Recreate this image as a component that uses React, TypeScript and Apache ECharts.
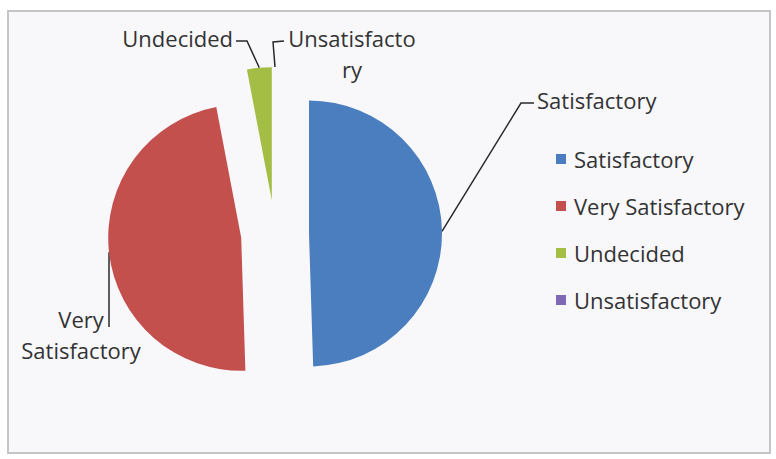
import React, { useEffect, useRef } from "react";
import * as echarts from "echarts";

const categories = ["Satisfactory", "Very Satisfactory", "Undecided", "Unsatisfactory"];
const values = [49.5, 47.5, 3, 0];
const colors = ["#4a7ebf", "#c4504e", "#a4bd45", "#7f68b4"];
const labelTexts = ["Satisfactory", "Very\nSatisfactory", "Undecided", "Unsatisfacto\nry"];

const CENTER = [275, 234];
const RADIUS = 133;
const EXPLODE = 34;

export default function App() {
  const ref = useRef<HTMLDivElement>(null);
  useEffect(() => {
    if (!ref.current) return;
    const chart = echarts.init(ref.current, null, { renderer: "svg" });
    const font = "'Open Sans', 'Noto Sans', sans-serif";
    const total = values.reduce((a, b) => a + b, 0);

    const layoutFor = (i: number, x0: number, y0: number) => {
      switch (i) {
        case 0:
          return {
            x: 537, y: 100, align: "left", verticalAlign: "middle",
            labelLinePoints: [[x0, y0], [521, 103], [534, 103]],
          };
        case 1:
          return {
            x: 81, y: 334, align: "center", verticalAlign: "middle",
            labelLinePoints: [[x0, y0], [x0, y0 + 2], [x0, 327]],
          };
        case 2:
          return {
            x: 233, y: 38, align: "right", verticalAlign: "middle",
            labelLinePoints: [[x0, y0], [247, 41], [236, 41]],
          };
        default:
          return {
            x: 352, y: 53, align: "center", verticalAlign: "middle",
            labelLinePoints: [[x0, y0], [273, 42], [284, 41]],
          };
      }
    };

    let cum = 0;
    const series = categories.map((cat, i) => {
      const mid = ((cum + values[i] / 2) / total) * Math.PI * 2;
      cum += values[i];
      const cx = CENTER[0] + EXPLODE * Math.sin(mid);
      const cy = CENTER[1] - EXPLODE * Math.cos(mid);
      return {
        type: "pie",
        name: cat,
        center: [cx, cy],
        radius: RADIUS,
        startAngle: 90,
        clockwise: true,
        avoidLabelOverlap: false,
        emphasis: { disabled: true },
        silent: true,
        itemStyle: { borderWidth: 0 },
        label: {
          show: true,
          position: "outside",
          fontFamily: font,
          fontSize: 22,
          color: "#333333",
          lineHeight: 31,
          formatter: (p: any) => labelTexts[p.dataIndex],
        },
        labelLine: { show: true, lineStyle: { color: "#2a2a2a", width: 1.5 } },
        labelLayout: (p: any) => {
          const pts = p.labelLinePoints;
          const s = pts && pts[0] ? pts[0] : [0, 0];
          return layoutFor(p.dataIndex, s[0], s[1]);
        },
        data: categories.map((name, j) => ({
          name,
          value: values[j],
          itemStyle: { color: j === i ? colors[j] : "rgba(0,0,0,0)" },
          label: { show: j === i },
          labelLine: { show: j === i },
        })),
      };
    });

    chart.setOption({
      animation: false,
      backgroundColor: "#ffffff",
      graphic: [
        {
          type: "rect",
          shape: { x: 8, y: 11, width: 762, height: 442 },
          style: { fill: "#f8f8fb", stroke: "#c4c4c8", lineWidth: 2 },
          z: -10,
        },
      ],
      legend: {
        orient: "vertical",
        left: 551,
        top: 141,
        icon: "rect",
        itemWidth: 10,
        itemHeight: 10,
        itemGap: 21,
        selectedMode: false,
        textStyle: { fontFamily: font, fontSize: 22, lineHeight: 26, color: "#333333", padding: [0, 0, 0, 3] },
        data: categories.map((name, i) => ({ name, itemStyle: { color: colors[i] } })),
      },
      series,
    });
    return () => chart.dispose();
  }, []);
  return (
    <div
      ref={ref}
      style={{ position: "fixed", left: 0, top: 0, width: 776, height: 459 }}
    />
  );
}
